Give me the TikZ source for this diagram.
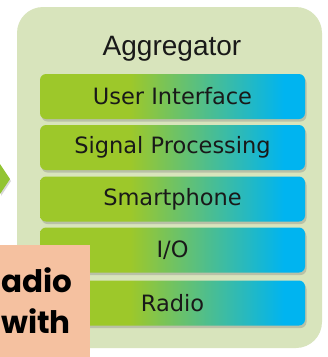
\documentclass[tikz,border=0pt]{standalone}
\usepackage{fontspec}
\setmainfont{DejaVu Sans}
\newfontfamily\aggfont{Liberation Sans}
\newfontfamily\popfont{Poppins}
\usetikzlibrary{shadows}
\definecolor{bgreen}{RGB}{157,200,42}
\definecolor{bblue}{RGB}{0,180,240}
\definecolor{boxbg}{RGB}{216,228,188}
\definecolor{pinkbg}{RGB}{245,193,160}
\definecolor{arrgreen}{RGB}{146,196,50}
\pgfdeclarehorizontalshading{barshade}{100bp}{color(0bp)=(bgreen); color(42bp)=(bgreen); color(71bp)=(bblue); color(100bp)=(bblue)}
\tikzset{
  bar/.style={shading=barshade, rounded corners=6pt, minimum width=265pt, minimum height=45pt,
    inner sep=0pt, font=\fontsize{22.5}{24}\selectfont, text=black!90,
    drop shadow={opacity=0.35, shadow xshift=1.5pt, shadow yshift=-2.5pt}},
  outerbox/.style={fill=boxbg, rounded corners=26pt, minimum width=305pt, minimum height=341pt, inner sep=0pt},
  bigtext/.style={font=\popfont\bfseries\fontsize{31}{34}\selectfont, text=black, inner sep=0pt}
}
\begin{document}
\begin{tikzpicture}[x=1pt,y=-1pt]
\useasboundingbox (0,0) rectangle (328,357);
\fill[white] (0,0) rectangle (328,357);
% outer box
\node[outerbox] (box) at (169.5,177.5) {};
\node[font=\aggfont\fontsize{28}{30}\selectfont, text=black!90, inner sep=0pt, anchor=base] (title) at (172,55) {Aggregator};
% bars
\node[bar] (ui) at (172.5,96.5) {User Interface};
\node[bar] (sp) at (172.5,147.5) {Signal Processing};
\node[bar] (sm) at (172.5,199) {Smartphone};
\node[bar] (io) at (172.5,250) {I/O};
\node[bar] (ra) at (172.5,303) {Radio};
% left arrow tip
\fill[arrgreen, drop shadow={opacity=0.3, shadow xshift=1pt, shadow yshift=-2pt}] (0,164) -- (10,179) -- (0,194) -- cycle;
% pink box
\node[fill=pinkbg, minimum width=90pt, minimum height=112pt, inner sep=0pt, anchor=north west] (pink) at (0,245) {};
\node[bigtext, anchor=base west] (t1) at (1,292) {adio};
\node[bigtext, anchor=base west] (t2) at (1,333) {with};
\end{tikzpicture}
\end{document}
